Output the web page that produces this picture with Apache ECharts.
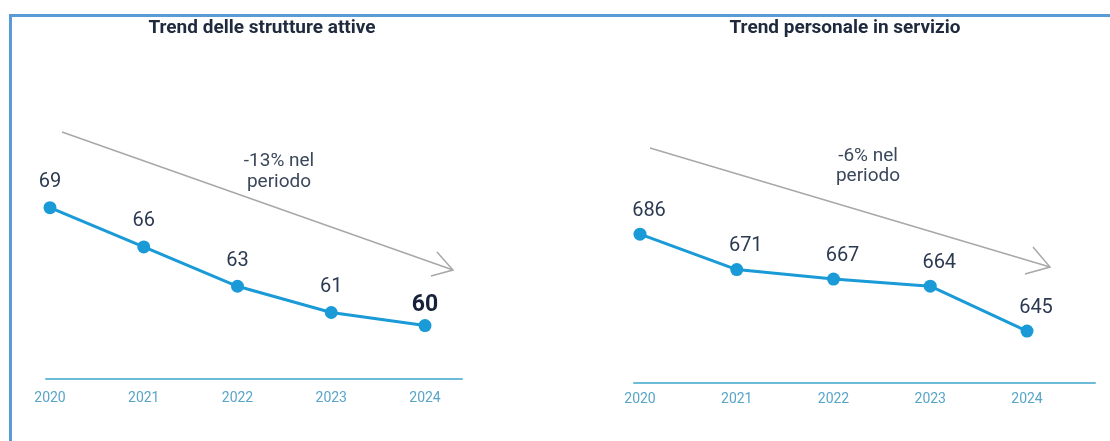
<!DOCTYPE html>
<html>
<head>
<meta charset="utf-8">
<script src="https://cdn.jsdelivr.net/npm/echarts@6/dist/echarts.min.js"></script>
<style>
  html, body { margin: 0; padding: 0; background: #ffffff; }
  #chart { position: absolute; left: 0; top: 0; width: 1110px; height: 441px; }
  #frame { position: absolute; left: 9px; top: 14px; width: 1110px; height: 440px;
           border-top: 3px solid #5b9bd5; border-left: 3px solid #5b9bd5; pointer-events: none; }
</style>
</head>
<body>
<div id="chart"></div>
<div id="frame"></div>
<script>
// ---- data ----
const years = ['2020', '2021', '2022', '2023', '2024'];
const strutture = [69, 66, 63, 61, 60];
const personale = [686, 671, 667, 664, 645];
const titleLeft = 'Trend delle strutture attive';
const titleRight = 'Trend personale in servizio';
const noteLeft = '-13% nel\nperiodo';
const noteRight = '-6% nel\nperiodo';

const FONT = 'Roboto, "Noto Sans", Arial, sans-serif';
const LINE = '#1a9ad6';
const AXIS = '#6cbcd9';
const AXLBL = '#58a5c8';
const LBL = '#2c3a51';

function seriesData(vals, boldLast) {
  return vals.map((v, i) => {
    if (boldLast && i === vals.length - 1) {
      return { value: v, label: { fontWeight: 'bold', fontSize: 23, color: '#17223a', distance: 2 } };
    }
    return v;
  });
}

const chart = echarts.init(document.getElementById('chart'));
const option = {
  backgroundColor: '#ffffff',
  animation: false,
  title: [
    { text: titleLeft, left: 257, top: 14, textAlign: 'center',
      textStyle: { fontFamily: FONT, fontSize: 19, fontWeight: 'bold', color: '#1f2a3c' } },
    { text: titleRight, left: 840, top: 14, textAlign: 'center',
      textStyle: { fontFamily: FONT, fontSize: 19, fontWeight: 'bold', color: '#1f2a3c' } }
  ],
  grid: [
    { left: 50, width: 375, top: 129, height: 249 },     // left data
    { left: 46, width: 416, top: 129, height: 250 },     // left baseline
    { left: 640, width: 387, top: 149, height: 243.6 },  // right data
    { left: 634, width: 461, top: 138, height: 245 }     // right baseline
  ],
  xAxis: [
    { gridIndex: 0, type: 'category', data: years, boundaryGap: false,
      axisLine: { show: false }, axisTick: { show: false }, splitLine: { show: false },
      axisLabel: { margin: 13, fontFamily: FONT, fontSize: 14, color: AXLBL } },
    { gridIndex: 1, type: 'value', min: 0, max: 1,
      axisLine: { show: true, lineStyle: { color: AXIS, width: 2 } },
      axisTick: { show: false }, axisLabel: { show: false }, splitLine: { show: false } },
    { gridIndex: 2, type: 'category', data: years, boundaryGap: false,
      axisLine: { show: false }, axisTick: { show: false }, splitLine: { show: false },
      axisLabel: { margin: 0, fontFamily: FONT, fontSize: 14, color: AXLBL } },
    { gridIndex: 3, type: 'value', min: 0, max: 1,
      axisLine: { show: true, lineStyle: { color: AXIS, width: 2 } },
      axisTick: { show: false }, axisLabel: { show: false }, splitLine: { show: false } }
  ],
  yAxis: [
    { gridIndex: 0, type: 'value', min: 56, max: 75, show: false },
    { gridIndex: 1, type: 'value', min: 0, max: 1, show: false },
    { gridIndex: 2, type: 'value', min: 619, max: 722, show: false },
    { gridIndex: 3, type: 'value', min: 0, max: 1, show: false }
  ],
  series: [
    { type: 'line', xAxisIndex: 0, yAxisIndex: 0, data: seriesData(strutture, true),
      symbol: 'circle', symbolSize: 13, smooth: false,
      lineStyle: { color: LINE, width: 3 }, itemStyle: { color: LINE },
      label: { show: true, position: 'top', distance: 9, fontFamily: FONT, fontSize: 20, color: LBL } },
    { type: 'line', xAxisIndex: 2, yAxisIndex: 2, data: seriesData(personale, false),
      symbol: 'circle', symbolSize: 13,
      lineStyle: { color: LINE, width: 3 }, itemStyle: { color: LINE },
      label: { show: true, position: 'top', distance: 7, offset: [9, 0], fontFamily: FONT, fontSize: 20, color: LBL } }
  ],
  graphic: [
    { type: 'polyline', shape: { points: [[62, 132], [453, 270]] }, style: { stroke: '#a8a8a8', lineWidth: 1.5, fill: null } },
    { type: 'polyline', shape: { points: [[437, 252], [453, 270], [431, 276]] }, style: { stroke: '#a8a8a8', lineWidth: 1.5, fill: null } },
    { type: 'polyline', shape: { points: [[650, 148], [1050, 267]] }, style: { stroke: '#a8a8a8', lineWidth: 1.5, fill: null } },
    { type: 'polyline', shape: { points: [[1033, 247], [1050, 267], [1025, 274]] }, style: { stroke: '#a8a8a8', lineWidth: 1.5, fill: null } },
    { type: 'text', x: 279, y: 151, style: { text: noteLeft, textAlign: 'center', font: '19px ' + FONT, lineHeight: 21, fill: '#3b485b' } },
    { type: 'text', x: 868, y: 146, style: { text: noteRight, textAlign: 'center', font: '19px ' + FONT, lineHeight: 20, fill: '#3b485b' } }
  ]
};
chart.setOption(option);
</script>
</body>
</html>
